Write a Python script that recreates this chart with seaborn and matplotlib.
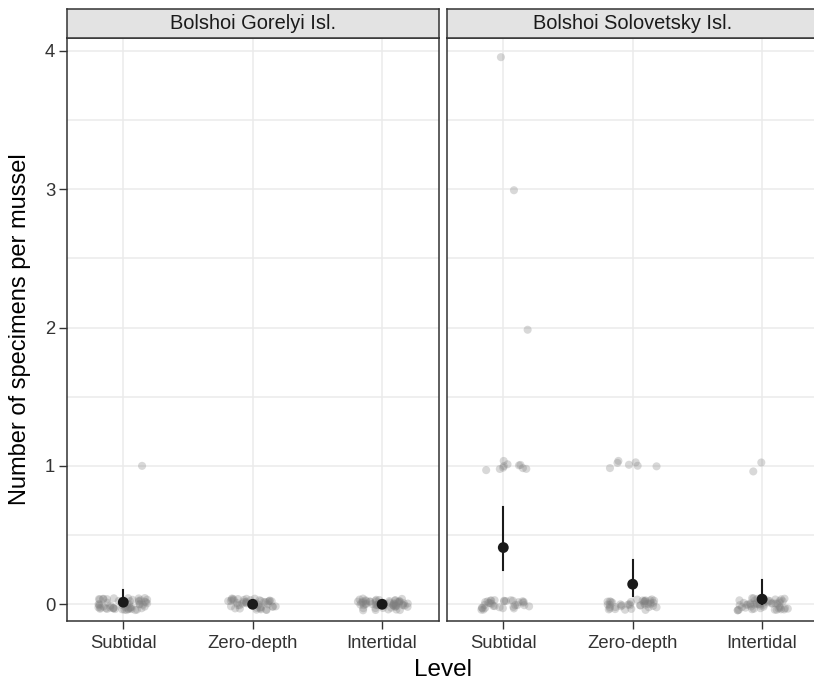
import numpy as np
import pandas as pd
import matplotlib
matplotlib.use("Agg")
import matplotlib.pyplot as plt
from matplotlib.ticker import MultipleLocator
import seaborn as sns
import seaborn.objects as so

# ---------------- data ----------------
islands = ["Bolshoi Gorelyi Isl.", "Bolshoi Solovetsky Isl."]
levels = ["Subtidal", "Zero-depth", "Intertidal"]

# number of specimens found on each mussel
gorelyi_subtidal = [0] * 55 + [1]
gorelyi_zero = [0] * 45
gorelyi_inter = [0] * 60
solov_subtidal = [0] * 33 + [1] * 10 + [2, 3, 4]
solov_zero = [0] * 41 + [1] * 7
solov_inter = [0] * 53 + [1] * 2

# mean and interval
gorelyi_mean = [0.015, 0.0, 0.0]
gorelyi_lo = [0.0, 0.0, 0.0]
gorelyi_hi = [0.10, 0.0, 0.0]
solov_mean = [0.41, 0.145, 0.037]
solov_lo = [0.245, 0.06, 0.0]
solov_hi = [0.70, 0.32, 0.175]

raw = {
    islands[0]: [gorelyi_subtidal, gorelyi_zero, gorelyi_inter],
    islands[1]: [solov_subtidal, solov_zero, solov_inter],
}
summ = {
    islands[0]: (gorelyi_mean, gorelyi_lo, gorelyi_hi),
    islands[1]: (solov_mean, solov_lo, solov_hi),
}

# ---------------- style ----------------
FONT = ["Liberation Sans", "DejaVu Sans"]
plt.rcParams["font.family"] = FONT
theme_rc = {
    "font.family": FONT,
    "axes.facecolor": "white",
    "axes.edgecolor": "#333333",
    "text.color": "#1a1a1a",
    "xtick.color": "#333333",
    "ytick.color": "#333333",
}

W, H = 814, 680
fig = plt.figure(figsize=(W / 100, H / 100), dpi=100)
panel_px = [(67, 439), (447, 819)]
top_px, bot_px, strip_top = 37.7, 621.0, 9.0

for i, isl in enumerate(islands):
    x0, x1 = panel_px[i]
    ax = fig.add_axes([x0 / W, 1 - bot_px / H, (x1 - x0) / W, (bot_px - top_px) / H])

    lv, ct = [], []
    for lev, vals in zip(levels, raw[isl]):
        lv += [lev] * len(vals)
        ct += list(vals)
    pts = pd.DataFrame({"level": lv, "count": ct})
    m, lo, hi = summ[isl]
    sm = pd.DataFrame({"level": levels, "mean": m, "lo": lo, "hi": hi})

    (
        so.Plot()
        .add(so.Dot(color="#7f7f7f", alpha=0.3, pointsize=5.8, edgewidth=0),
             so.Jitter(x=0.4, y=0.09, seed=7 + i), data=pts, x="level", y="count")
        .add(so.Range(color="#1a1a1a", linewidth=1.5), data=sm, x="level", ymin="lo", ymax="hi")
        .add(so.Dot(color="#1a1a1a", pointsize=7.8, edgewidth=0), data=sm, x="level", y="mean")
        .scale(x=so.Nominal(order=levels))
        .theme(theme_rc)
        .on(ax)
        .plot()
    )

    ax.set_xlim(-0.435, 2.44)
    ax.set_ylim(-0.121, 4.096)
    ax.set_xlabel("")
    ax.set_ylabel("")
    ax.set_facecolor("white")
    ax.yaxis.set_major_locator(MultipleLocator(1))
    ax.yaxis.set_minor_locator(MultipleLocator(0.5))
    ax.set_axisbelow(True)
    ax.grid(True, which="major", axis="both", color="#ebebeb", linewidth=1.1)
    ax.grid(True, which="minor", axis="y", color="#ebebeb", linewidth=1.1)
    for s in ax.spines.values():
        s.set_visible(True)
        s.set_color("#333333")
        s.set_linewidth(1.1)
    ax.tick_params(axis="both", which="major", length=5.5, width=1.0, color="#333333",
                   labelsize=13.3, labelcolor="#333333", labelfontfamily=FONT[0])
    ax.tick_params(axis="x", which="major", pad=4.7)
    ax.tick_params(axis="y", which="major", pad=3.0)
    ax.tick_params(which="minor", length=0)
    if i == 1:
        ax.tick_params(axis="y", left=False, labelleft=False)

    sax = fig.add_axes([x0 / W, 1 - top_px / H, (x1 - x0) / W, (top_px - strip_top) / H])
    sax.set_facecolor("#e3e3e3")
    sax.set_xticks([])
    sax.set_yticks([])
    for s in sax.spines.values():
        s.set_color("#333333")
        s.set_linewidth(1.1)
    sax.text(0.5, 0.5, isl, ha="center", va="center", fontsize=14.4,
             color="#1a1a1a", transform=sax.transAxes, family=FONT)

fig.text(20 / W, 1 - 329 / H, "Number of specimens per mussel", rotation=90,
         ha="center", va="center", fontsize=17, color="black", family=FONT)
fig.text(443 / W, 1 - 676.5 / H, "Level", ha="center", va="baseline",
         fontsize=17.5, color="black", family=FONT)

fig.savefig("out.png", dpi=100)
